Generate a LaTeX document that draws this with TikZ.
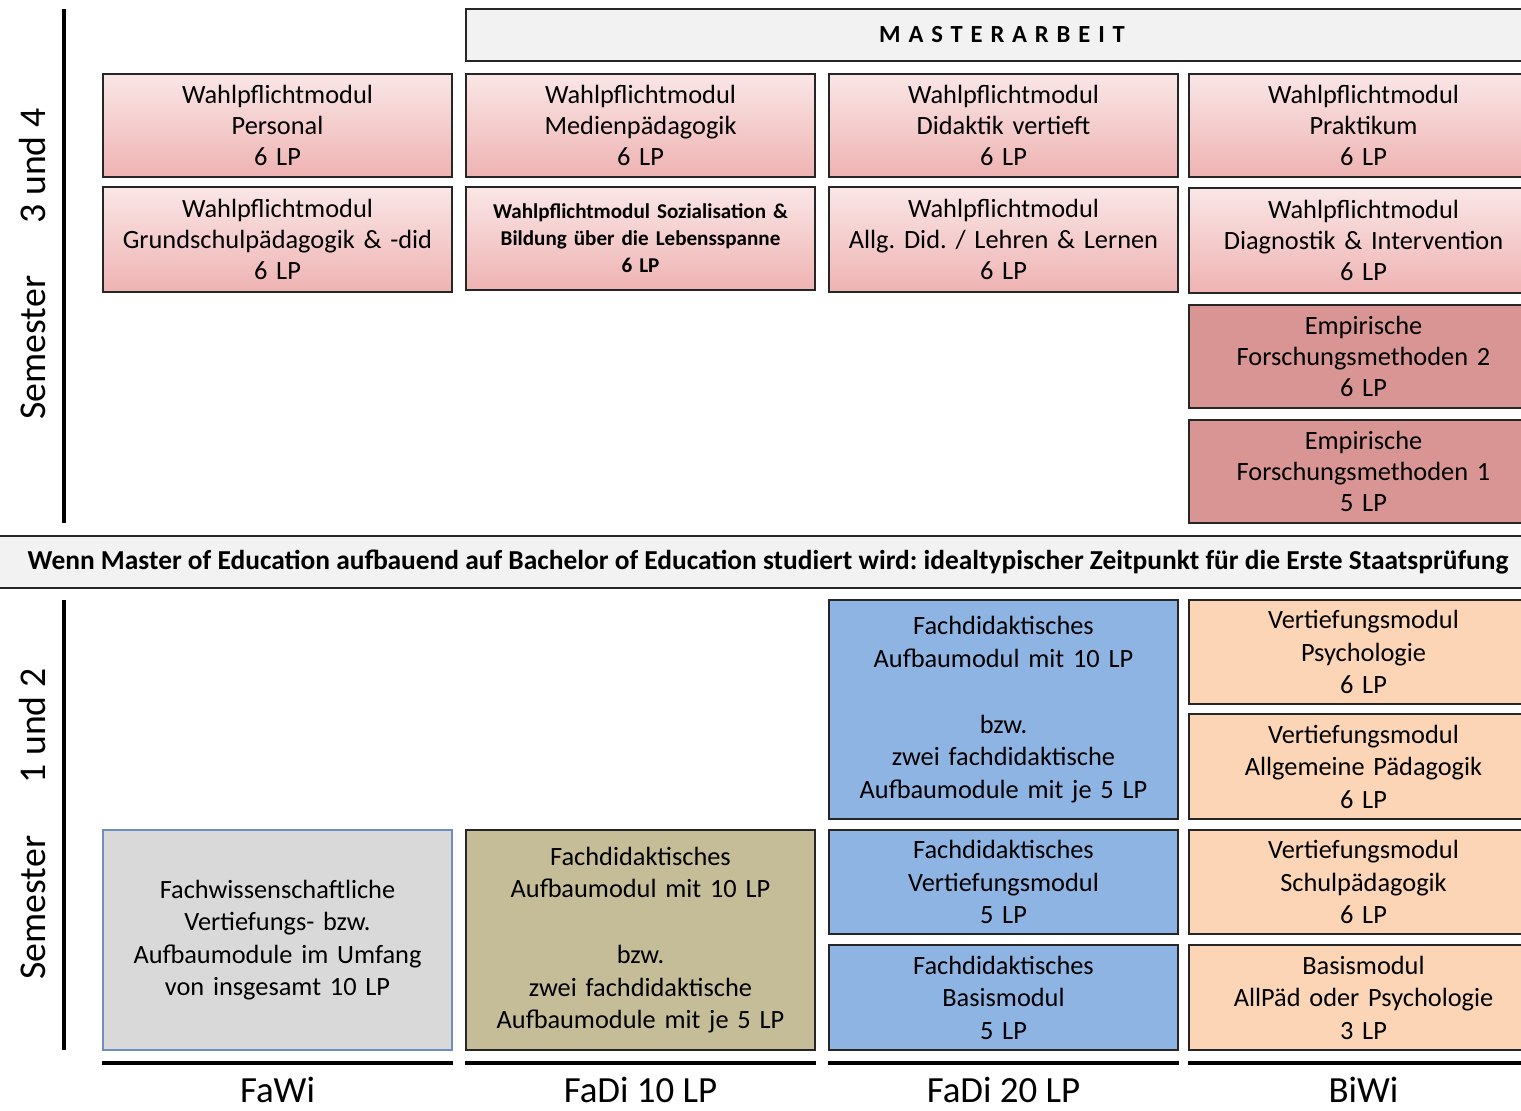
\documentclass[tikz,border=0pt]{standalone}
\usepackage{fontspec}
\setmainfont{Carlito}
\usepackage{tikz}
\usetikzlibrary{positioning}
\definecolor{wpTop}{HTML}{FAE6E6}
\definecolor{wpBot}{HTML}{EFB3B3}
\definecolor{efRed}{HTML}{D99594}
\definecolor{fdBlue}{HTML}{8EB4E3}
\definecolor{bwOrange}{HTML}{FBD5B5}
\definecolor{fwGrey}{HTML}{D9D9D9}
\definecolor{fwEdge}{HTML}{6D8EBF}
\definecolor{fdOlive}{HTML}{C4BD97}
\definecolor{barGrey}{HTML}{F2F2F2}
\frenchspacing

\begin{document}
\begin{tikzpicture}[x=0.02cm, y=-0.02cm,
    box/.style = {rectangle, draw=black!85, line width=1.1pt, align=center, inner sep=0pt, text width=6.8cm, minimum width=6.98cm, font=\fontsize{15}{17.6}\selectfont},
    wahl/.style = {box, top color=wpTop, bottom color=wpBot},
    empir/.style = {box, fill=efRed, minimum height=2.06cm},
    lower/.style = {box, font=\fontsize{15}{18.5}\selectfont},
    fadi/.style = {lower, fill=fdBlue},
    biwi/.style = {lower, fill=bwOrange},
    bar/.style = {rectangle, draw=black!85, line width=1.1pt, fill=barGrey, inner sep=0pt, minimum height=1.04cm},
    semlabel/.style = {rotate=90, font=\fontsize{21.5}{25}\selectfont},
    collabel/.style = {font=\fontsize{21}{25}\selectfont},
    axis/.style = {line width=2.3pt},
    colline/.style = {line width=2.2pt}
]
\useasboundingbox (0,0) rectangle (1521,1110);
\clip (0,0) rectangle (1521,1110);

% Semester 3 und 4
\node (master) [bar, minimum width=21.44cm, font=\fontsize{14}{17}\bfseries\addfontfeature{LetterSpace=32}] at (1002,35) {MASTERARBEIT};

\node (wpPersonal) [wahl, minimum height=2.06cm] at (277.5,125.5) {Wahlpflichtmodul\\Personal\\6 LP};
\node (wpMedien) [wahl, minimum height=2.06cm] at (640.5,125.5) {Wahlpflichtmodul\\Medienpädagogik\\6 LP};
\node (wpDidaktik) [wahl, minimum height=2.06cm] at (1003.5,125.5) {Wahlpflichtmodul\\Didaktik vertieft\\6 LP};
\node (wpPraktikum) [wahl, minimum height=2.06cm] at (1363.5,125.5) {Wahlpflichtmodul\\Praktikum\\6 LP};

\node (wpGrund) [wahl, minimum height=2.1cm] at (277.5,239.5) {Wahlpflichtmodul\\Grundschulpädagogik \& -did\\6 LP};
\node (wpSozial) [wahl, minimum height=2.06cm, font=\fontsize{12}{15.3}\bfseries\selectfont] at (640.5,238.5) {Wahlpflichtmodul Sozialisation \&\\Bildung über die Lebensspanne\\6 LP};
\node (wpAllgDid) [wahl, minimum height=2.1cm] at (1003.5,239.5) {Wahlpflichtmodul\\Allg. Did. / Lehren \& Lernen\\6 LP};
\node (wpDiag) [wahl, minimum height=2.1cm] at (1363.5,240.5) {Wahlpflichtmodul\\Diagnostik \& Intervention\\6 LP};

\node (efm2) [empir] at (1363.5,356.5) {Empirische\\Forschungsmethoden 2\\6 LP};
\node (efm1) [empir] at (1363.5,471.5) {Empirische\\Forschungsmethoden 1\\5 LP};

\draw [axis] (64,9) -- (64,523);
\node (sem34) [semlabel] at (33,264) {Semester\hspace{1.05cm}3 und 4};

% Staatspruefung
\node (staatsex) [bar, minimum width=31.2cm, font=\fontsize{15.6}{18}\bfseries\selectfont] at (768,562) {Wenn Master of Education aufbauend auf Bachelor of Education studiert wird: idealtypischer Zeitpunkt für die Erste Staatsprüfung};

% Semester 1 und 2
\node (fdAufbau20) [fadi, minimum height=4.38cm] at (1003.5,709.5) {Fachdidaktisches\\Aufbaumodul mit 10 LP\\[19pt]bzw.\\zwei fachdidaktische\\Aufbaumodule mit je 5 LP};
\node (vmPsych) [biwi, minimum height=2.08cm] at (1363.5,652) {Vertiefungsmodul\\Psychologie\\6 LP};
\node (vmAllgPaed) [biwi, minimum height=2.1cm] at (1363.5,766.5) {Vertiefungsmodul\\Allgemeine Pädagogik\\6 LP};

\node (fwAufbau) [lower, fill=fwGrey, draw=fwEdge, line width=0.9pt, minimum height=4.4cm] at (277.5,940) {Fachwissenschaftliche\\Vertiefungs- bzw.\\Aufbaumodule im Umfang\\von insgesamt 10 LP};
\node (fdAufbau10) [lower, fill=fdOlive, minimum height=4.4cm] at (640.5,940) {Fachdidaktisches\\Aufbaumodul mit 10 LP\\[19pt]bzw.\\zwei fachdidaktische\\Aufbaumodule mit je 5 LP};

\node (fdVertief) [fadi, minimum height=2.08cm] at (1003.5,882) {Fachdidaktisches\\Vertiefungsmodul\\5 LP};
\node (vmSchul) [biwi, minimum height=2.08cm] at (1363.5,882) {Vertiefungsmodul\\Schulpädagogik\\6 LP};
\node (fdBasis) [fadi, minimum height=2.1cm] at (1003.5,997.5) {Fachdidaktisches\\Basismodul\\5 LP};
\node (bmBasis) [biwi, minimum height=2.1cm] at (1363.5,997.5) {Basismodul\\AllPäd oder Psychologie\\3 LP};

\draw [axis] (64,600) -- (64,1050);
\node (sem12) [semlabel] at (33,824) {Semester\hspace{1.05cm}1 und 2};

% Spalten
\draw [colline] ([yshift=-0.24cm]fwAufbau.south west) -- ([yshift=-0.24cm]fwAufbau.south east);
\draw [colline] ([yshift=-0.24cm]fdAufbau10.south west) -- ([yshift=-0.24cm]fdAufbau10.south east);
\draw [colline] ([yshift=-0.24cm]fdBasis.south west) -- ([yshift=-0.24cm]fdBasis.south east);
\draw [colline] ([yshift=-0.24cm]bmBasis.south west) -- ([yshift=-0.24cm]bmBasis.south east);

\node (lblFaWi) [collabel] at (277.5,1090) {FaWi};
\node (lblFaDi10) [collabel] at (640.5,1090) {FaDi 10 LP};
\node (lblFaDi20) [collabel] at (1003.5,1090) {FaDi 20 LP};
\node (lblBiWi) [collabel] at (1363.5,1090) {BiWi};
\end{tikzpicture}
\end{document}
